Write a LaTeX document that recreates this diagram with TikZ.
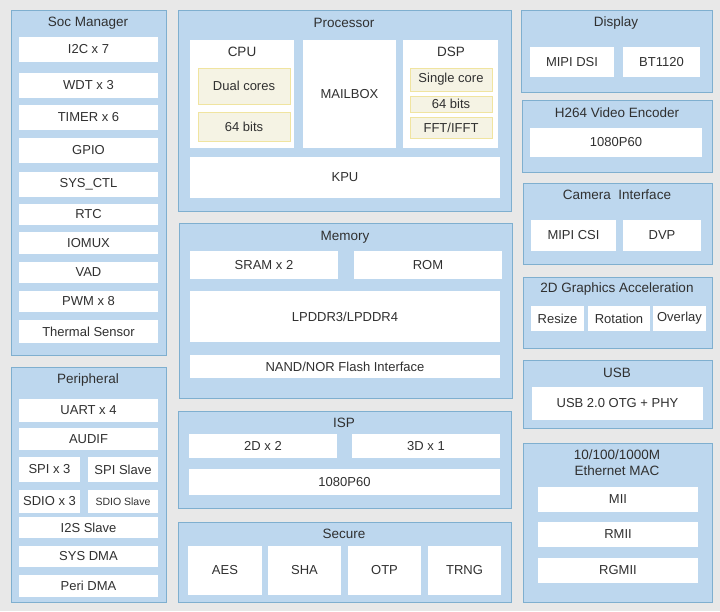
\documentclass[tikz,border=0pt]{standalone}
\usepackage{fontspec}
\setmainfont{Liberation Sans}
\definecolor{bggray}{HTML}{E8E8E8}
\definecolor{grpfill}{HTML}{BDD7EE}
\definecolor{grpline}{HTML}{7FAFCF}
\definecolor{corefill}{HTML}{F5F3E4}
\definecolor{coreline}{HTML}{F0E4A0}
\definecolor{txt}{HTML}{303030}
% box from its corners: [style]{name}{x1}{y1}{x2}{y2}{text}
\newcommand\blk[7][cell]{%
  \node[#1, minimum width={(#5-#3)*1pt}, minimum height={(#6-#4)*1pt}]
    (#2) at ({(#3+#5)/2},{(#4+#6)/2}) {#7};}
\begin{document}
\begin{tikzpicture}[x=1pt, y=-1pt,
    grp/.style={draw=grpline, fill=grpfill, line width=0.9pt, inner sep=0pt},
    cell/.style={fill=white, inner sep=0pt, text=txt, font=\fontsize{13}{15}\selectfont},
    core/.style={cell, fill=corefill, draw=coreline, line width=0.9pt},
    ttl/.style={inner sep=0pt, text=txt, font=\fontsize{13.5}{16}\selectfont}]
    \fill[bggray] (0,0) rectangle (720,611);
    \useasboundingbox (0,0) rectangle (720,611);

    % Soc Manager
    \blk[grp]{soc}{11}{10}{166}{355}{}
    \node[ttl] (soct) at (88,23) {Soc Manager};
    \blk{i2c}{19}{37}{158}{62}{I2C x 7}
    \blk{wdt}{19}{73}{158}{98}{WDT x 3}
    \blk{timer}{19}{105}{158}{130}{TIMER x 6}
    \blk{gpio}{19}{138}{158}{163}{GPIO}
    \blk{sysctl}{19}{172}{158}{197}{SYS\_CTL}
    \blk{rtc}{19}{204}{158}{225}{RTC}
    \blk{iomux}{19}{232}{158}{254}{IOMUX}
    \blk{vad}{19}{262}{158}{283}{VAD}
    \blk{pwm}{19}{291}{158}{312}{PWM x 8}
    \blk{therm}{19}{320}{158}{343}{Thermal Sensor}

    % Peripheral
    \blk[grp]{peri}{11}{367}{166}{602}{}
    \node[ttl] (perit) at (88,380) {Peripheral};
    \blk{uart}{19}{399}{158}{422}{UART x 4}
    \blk{audif}{19}{428}{158}{450}{AUDIF}
    \blk{spi}{19}{457}{80}{482}{SPI x 3}
    \blk{spis}{88}{457}{158}{482}{SPI Slave}
    \blk{sdio}{19}{490}{80}{513}{SDIO x 3}
    \blk[cell, font=\fontsize{10.5}{12}\selectfont]{sdios}{88}{490}{158}{513}{SDIO Slave}
    \blk{i2s}{19}{517}{158}{538}{I2S Slave}
    \blk{sysdma}{19}{546}{158}{567}{SYS DMA}
    \blk{peridma}{19}{575}{158}{597}{Peri DMA}

    % Processor
    \blk[grp]{proc}{178}{10}{511}{211}{}
    \node[ttl] (proct) at (344,23) {Processor};
    \blk{cpu}{190}{40}{294}{148}{}
    \node[ttl] (cput) at (242,52) {CPU};
    \blk[core]{dual}{198}{68}{290}{104}{Dual cores}
    \blk[core]{cpubits}{198}{112}{290}{141}{64 bits}
    \blk{mailbox}{303}{40}{396}{148}{MAILBOX}
    \blk{dsp}{403}{40}{498}{148}{}
    \node[ttl] (dspt) at (451,52) {DSP};
    \blk[core]{single}{410}{68}{492}{91}{Single core}
    \blk[core]{dspbits}{410}{96}{492}{112}{64 bits}
    \blk[core]{fft}{410}{117}{492}{138}{FFT/IFFT}
    \blk{kpu}{190}{157}{500}{198}{KPU}

    % Memory
    \blk[grp]{mem}{179}{223}{512}{398}{}
    \node[ttl] (memt) at (345,237) {Memory};
    \blk{sram}{190}{251}{338}{279}{SRAM x 2}
    \blk{rom}{354}{251}{502}{279}{ROM}
    \blk{lpddr}{190}{291}{500}{342}{LPDDR3/LPDDR4}
    \blk{nand}{190}{355}{500}{378}{NAND/NOR Flash Interface}

    % ISP
    \blk[grp]{isp}{178}{411}{511}{508}{}
    \node[ttl] (ispt) at (344,423) {ISP};
    \blk{twod}{189}{434}{337}{458}{2D x 2}
    \blk{threed}{352}{434}{500}{458}{3D x 1}
    \blk{ispres}{189}{469}{500}{495}{1080P60}

    % Secure
    \blk[grp]{sec}{178}{522}{511}{602}{}
    \node[ttl] (sect) at (344,534) {Secure};
    \blk{aes}{188}{546}{262}{595}{AES}
    \blk{sha}{268}{546}{341}{595}{SHA}
    \blk{otp}{348}{546}{421}{595}{OTP}
    \blk{trng}{428}{546}{501}{595}{TRNG}

    % Display
    \blk[grp]{disp}{521}{10}{712}{92}{}
    \node[ttl] (dispt) at (616,23) {Display};
    \blk{dsi}{530}{47}{614}{77}{MIPI DSI}
    \blk{bt}{623}{47}{700}{77}{BT1120}

    % H264 Video Encoder
    \blk[grp]{venc}{522}{100}{712}{172}{}
    \node[ttl] (venct) at (617,113) {H264 Video Encoder};
    \blk{vencres}{530}{128}{702}{157}{1080P60}

    % Camera Interface
    \blk[grp]{cam}{523}{183}{712}{264}{}
    \node[ttl] (camt) at (617,195) {Camera\ \ Interface};
    \blk{csi}{531}{220}{616}{251}{MIPI CSI}
    \blk{dvp}{623}{220}{701}{251}{DVP}

    % 2D Graphics Acceleration
    \blk[grp]{gfx}{523}{277}{712}{348}{}
    \node[ttl] (gfxt) at (617,289) {2D Graphics Acceleration};
    \blk{resize}{531}{306}{584}{331}{Resize}
    \blk{rot}{588}{306}{650}{331}{Rotation}
    \blk{overlay}{653}{306}{706}{331}{Overlay}

    % USB
    \blk[grp]{usb}{523}{360}{712}{428}{}
    \node[ttl] (usbt) at (617,373) {USB};
    \blk{otg}{532}{387}{703}{420}{USB 2.0 OTG + PHY}

    % Ethernet MAC
    \blk[grp]{eth}{523}{443}{712}{602}{}
    \node[ttl, align=center] (etht) at (617,463) {10/100/1000M\\Ethernet MAC};
    \blk{mii}{538}{487}{698}{512}{MII}
    \blk{rmii}{538}{522}{698}{547}{RMII}
    \blk{rgmii}{538}{558}{698}{583}{RGMII}
\end{tikzpicture}
\end{document}
